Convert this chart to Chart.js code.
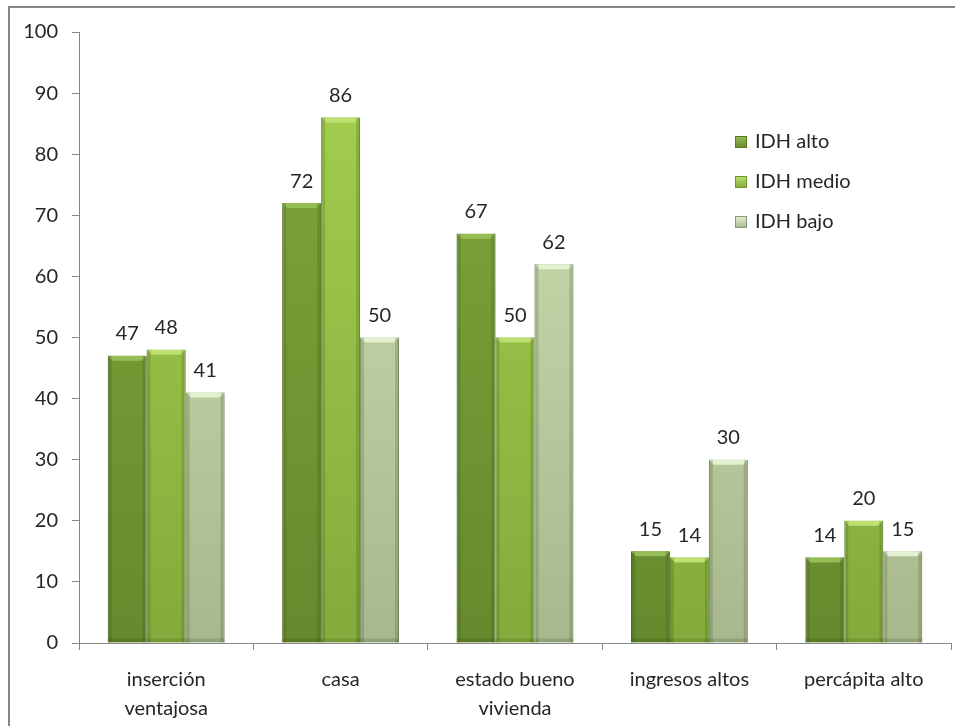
<!DOCTYPE html>
<html>
<head>
<meta charset="utf-8">
<script src="https://cdn.jsdelivr.net/npm/chart.js@4"></script>
<style>
  html, body { margin: 0; padding: 0; background: #fff; }
  #wrap { width: 955px; height: 726px; }
</style>
</head>
<body>
<div id="wrap"><canvas id="bars" width="955" height="726"></canvas></div>
<script>
const categories = [['inserción', 'ventajosa'], 'casa', ['estado bueno', 'vivienda'], 'ingresos altos', 'percápita alto'];
const seriesNames = ['IDH alto', 'IDH medio', 'IDH bajo'];
const idhAlto = [47, 72, 67, 15, 14];
const idhMedio = [48, 86, 50, 14, 20];
const idhBajo = [41, 50, 62, 30, 15];

// top / bottom / edge / highlight colours of each series
const shades = [
    ['#80a93c', '#66892d', '#5b7a28', '#96bd55'],
    ['#a6d150', '#84ab3b', '#6f9330', '#bde070'],
    ['#d0e4b4', '#a8b88d', '#8a9a72', '#e4f0d2'],
];
const FONT = 'Lato, "Open Sans", sans-serif';

function fill(i) {
    return function (ctx) {
        const area = ctx.chart.chartArea;
        if (!area) return shades[i][0];
        const g = ctx.chart.ctx.createLinearGradient(0, area.top, 0, area.bottom);
        g.addColorStop(0, shades[i][0]);
        g.addColorStop(1, shades[i][1]);
        return g;
    };
}

// grey frame round the chart
const framePlugin = {
    id: 'frame',
    beforeDraw(chart) {
        const c = chart.ctx;
        c.save();
        c.strokeStyle = '#868686';
        c.lineWidth = 2;
        c.strokeRect(9, 7, 1000, 1000);
        c.restore();
    }
};

// bevel look + value labels above bars
const valuePlugin = {
    id: 'values',
    afterDatasetsDraw(chart) {
        const c = chart.ctx;
        c.save();
        chart.data.datasets.forEach((ds, i) => {
            chart.getDatasetMeta(i).data.forEach((bar) => {
                const l = bar.x - bar.width / 2, r = bar.x + bar.width / 2;
                const t = bar.y, b = bar.base, e = 5;
                // top highlight
                c.fillStyle = shades[i][3];
                c.beginPath();
                c.moveTo(l, t); c.lineTo(r, t); c.lineTo(r - e, t + e); c.lineTo(l + e, t + e);
                c.closePath(); c.fill();
                // darker sides / bottom
                c.fillStyle = 'rgba(40,60,10,0.18)';
                c.fillRect(l, t, e - 1, b - t);
                c.fillRect(r - e + 1, t, e - 1, b - t);
                c.fillRect(l, b - e + 1, r - l, e - 1);
            });
        });
        c.font = '20px ' + FONT;
        c.fillStyle = '#262626';
        c.textAlign = 'center';
        c.textBaseline = 'middle';
        chart.data.datasets.forEach((ds, i) => {
            chart.getDatasetMeta(i).data.forEach((bar, j) => {
                c.fillText(ds.data[j], bar.x, bar.y - 22);
            });
        });
        c.restore();
    }
};

// legend inside the plot, top right
const legendPlugin = {
    id: 'sideLegend',
    afterDraw(chart) {
        const c = chart.ctx;
        c.save();
        c.font = '20px ' + FONT;
        c.textBaseline = 'middle';
        chart.data.datasets.forEach((ds, i) => {
            const y = 142 + i * 40;
            const g = c.createLinearGradient(0, y - 6, 0, y + 6);
            g.addColorStop(0, shades[i][3]);
            g.addColorStop(1, shades[i][1]);
            c.fillStyle = g;
            c.fillRect(735, y - 6, 12, 12);
            c.strokeStyle = shades[i][2];
            c.lineWidth = 1;
            c.strokeRect(735.5, y - 5.5, 11, 11);
            c.fillStyle = '#262626';
            c.fillText(ds.label, 755, y);
        });
        c.restore();
    }
};

const barConfig = {
    type: 'bar',
    data: {
        labels: categories,
        datasets: [idhAlto, idhMedio, idhBajo].map((d, i) => ({
            label: seriesNames[i],
            data: d,
            backgroundColor: fill(i),
            borderColor: shades[i][2],
            borderWidth: 1,
            categoryPercentage: 0.67,
            barPercentage: 1.0,
        })),
    },
    options: {
        responsive: false,
        animation: false,
        layout: { padding: { top: 32, right: 4, left: 0, bottom: 0 } },
        plugins: {
            legend: { display: false },
            tooltip: { enabled: false },
        },
        scales: {
            x: {
                grid: { drawOnChartArea: false, drawTicks: true, tickLength: 7, color: '#868686' },
                border: { color: '#868686', width: 1 },
                ticks: {
                    color: '#262626',
                    font: { family: FONT, size: 20, lineHeight: 1.45 },
                    padding: 15,
                    maxRotation: 0,
                    autoSkip: false,
                },
                afterFit(scale) { scale.height = 83; },
            },
            y: {
                min: 0,
                max: 100,
                ticks: {
                    stepSize: 10,
                    color: '#262626',
                    font: { family: FONT, size: 20 },
                    padding: 14,
                },
                grid: { drawOnChartArea: false, drawTicks: true, tickLength: 7, color: '#868686' },
                border: { color: '#868686', width: 1 },
                afterFit(scale) { scale.width = 79; },
            },
        },
    },
    plugins: [framePlugin, valuePlugin, legendPlugin],
};

const barsCtx = document.getElementById('bars');
window.myBar = new Chart(barsCtx, barConfig);
</script>
</body>
</html>
